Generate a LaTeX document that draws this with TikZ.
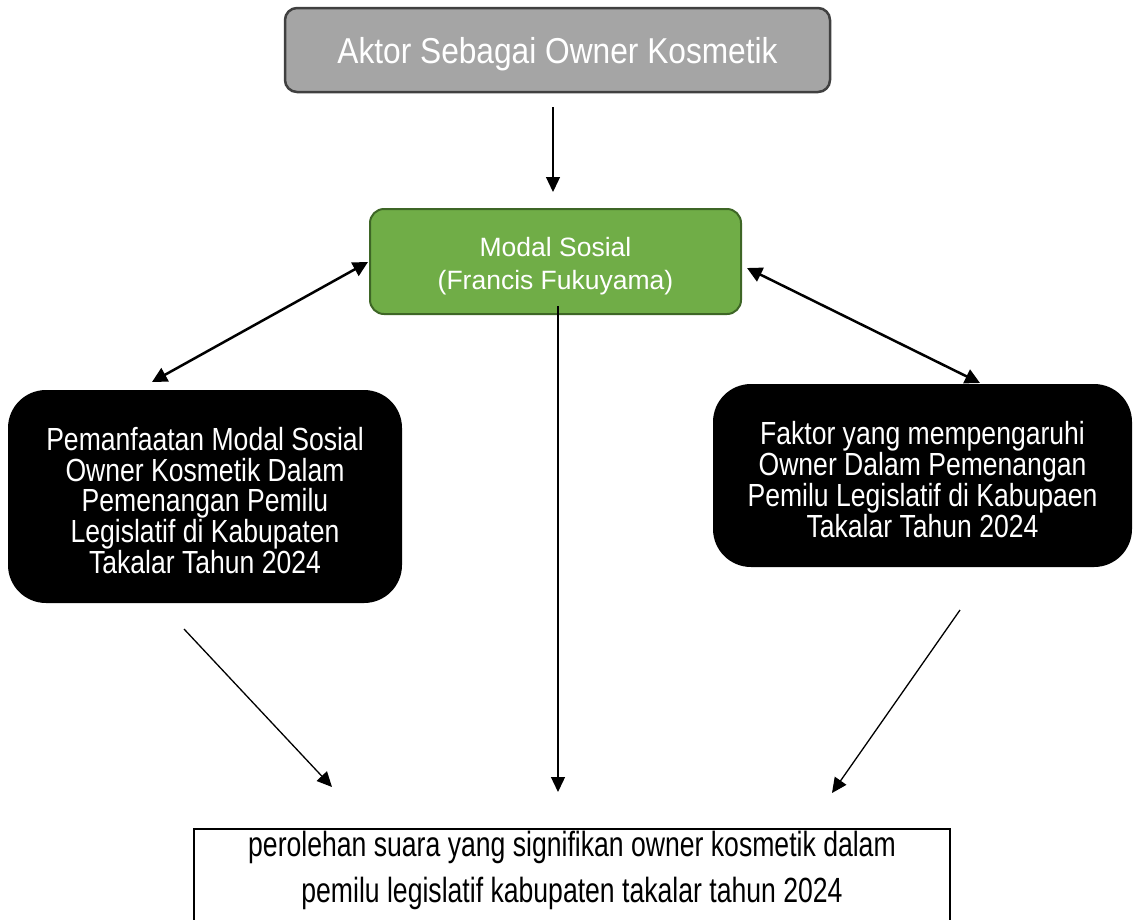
\documentclass[tikz,border=0pt]{standalone}
\usepackage{fontspec}
\setmainfont{Liberation Sans}
\newfontfamily\judulfont[FakeStretch=0.88]{Liberation Sans}
\newfontfamily\kotakfont[FakeStretch=0.83]{Liberation Sans}
\newfontfamily\hasilfont[FakeStretch=0.76]{Liberation Sans}
\usetikzlibrary{arrows.meta, positioning}
\definecolor{aktorgray}{RGB}{165,165,165}
\definecolor{aktorline}{RGB}{64,64,64}
\definecolor{modalgreen}{RGB}{112,173,71}
\definecolor{modalline}{RGB}{62,102,38}
% taller first line pushes the text block slightly down
\newcommand{\turun}[1]{\rule{0pt}{#1}}

\begin{document}
\begin{tikzpicture}[
    x=1pt, y=-1pt,
    aktorbox/.style={
        rectangle, rounded corners=12pt, draw=aktorline, line width=2.5pt,
        fill=aktorgray, text=white, minimum width=545pt, minimum height=84pt,
        font=\judulfont\fontsize{36}{42}\selectfont
    },
    modalbox/.style={
        rectangle, rounded corners=14pt, draw=modalline, line width=2pt,
        fill=modalgreen, text=white, minimum width=371pt, minimum height=105pt,
        align=center, font=\fontsize{26.5}{33}\selectfont
    },
    hitambox/.style={
        rectangle, rounded corners=38pt, fill=black, text=white,
        align=center, font=\kotakfont\fontsize{32}{30.8}\selectfont
    },
    hasilbox/.style={
        rectangle, draw=black, line width=2pt, fill=white,
        minimum width=756pt, minimum height=110pt
    },
    tipis/.style={line width=1.3pt, -{Triangle[length=15pt, width=14pt]}},
    tebal/.style={line width=2.5pt, {Triangle[length=15pt, width=15pt]}-{Triangle[length=15pt, width=15pt]}}
]
\useasboundingbox (0,0) rectangle (1134,919);

% Boxes
\node[aktorbox] (aktor) at (557.5, 50) {\turun{34pt}Aktor Sebagai Owner Kosmetik};
\node[modalbox] (modal) at (555.5, 261.5) {\turun{28pt}Modal Sosial\\(Francis Fukuyama)};
\node[hitambox, minimum width=394pt, minimum height=213pt] (pemanfaatan) at (205, 496.5)
    {\turun{31pt}Pemanfaatan Modal Sosial\\Owner Kosmetik Dalam\\Pemenangan Pemilu\\Legislatif di Kabupaten\\Takalar Tahun 2024};
\node[hitambox, minimum width=419pt, minimum height=183pt] (faktor) at (922.5, 475.5)
    {\turun{31pt}Faktor yang mempengaruhi\\Owner Dalam Pemenangan\\Pemilu Legislatif di Kabupaen\\Takalar Tahun 2024};
\node[hasilbox, anchor=north] (hasil) at (572, 828) {};
\node[align=center, font=\hasilfont\fontsize{35}{46}\selectfont] (hasilteks) at (572, 870)
    {perolehan suara yang signifikan owner kosmetik dalam\\pemilu legislatif kabupaten takalar tahun 2024};

% Arrow ends
\coordinate (aktorbawah) at (553, 107);
\coordinate (modalatas) at (553, 192);
\coordinate (modalkiri) at (368, 262);
\coordinate (pemanfaatanatas) at (152, 382);
\coordinate (modalkanan) at (747, 268);
\coordinate (faktoratas) at (980, 383);
\coordinate (modalbawah) at (558, 306);
\coordinate (hasiltengah) at (558, 792);
\coordinate (pemanfaatanbawah) at (184, 629);
\coordinate (hasilkiri) at (332, 787);
\coordinate (faktorbawah) at (960, 610);
\coordinate (hasilkanan) at (832, 793);

% Arrows
\draw[tipis] (aktorbawah) -- (modalatas);
\draw[tebal] (modalkiri) -- (pemanfaatanatas);
\draw[tebal] (modalkanan) -- (faktoratas);
\draw[tipis] (modalbawah) -- (hasiltengah);
\draw[tipis] (pemanfaatanbawah) -- (hasilkiri);
\draw[tipis] (faktorbawah) -- (hasilkanan);

\end{tikzpicture}
\end{document}
